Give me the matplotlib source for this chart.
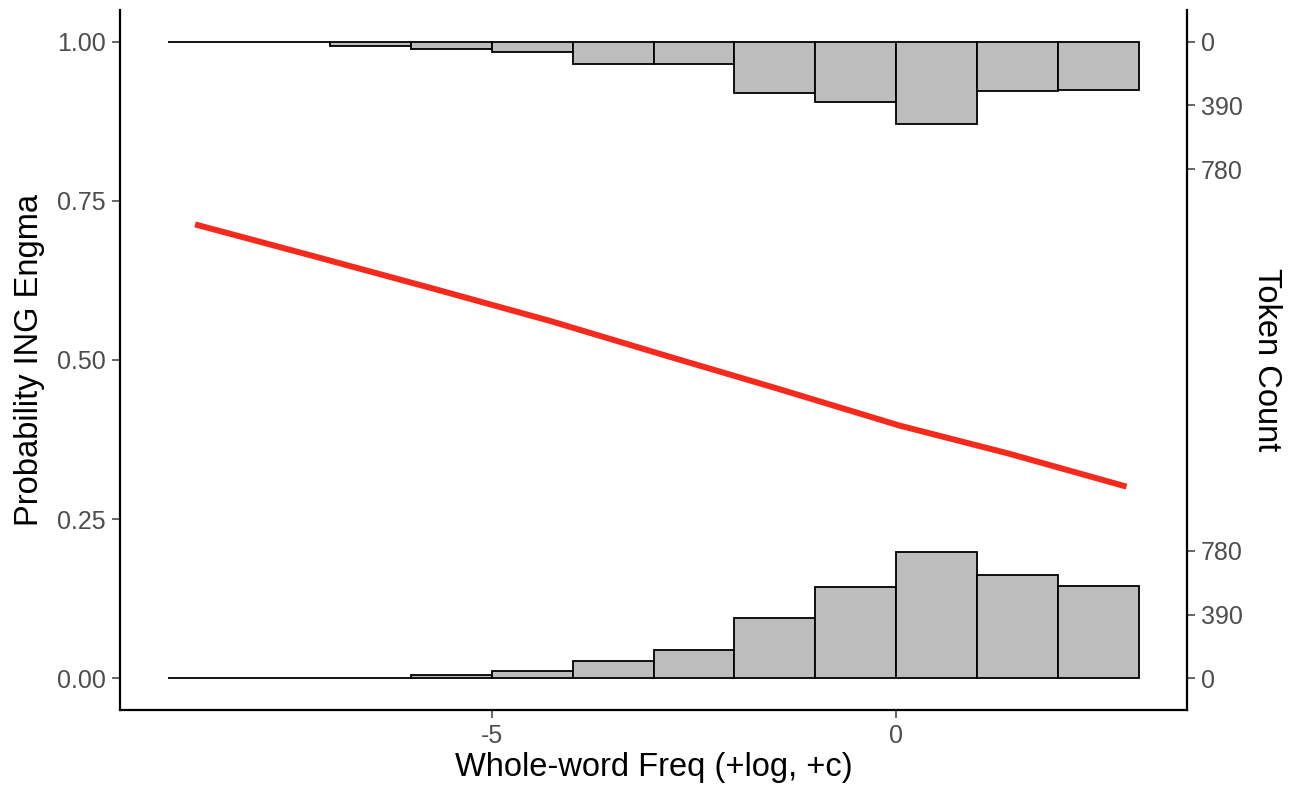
#!/usr/bin/env python3
"""Whole-word frequency vs probability of ING engma, with marginal token histograms"""

import numpy as np
import matplotlib
matplotlib.use("Agg")
import matplotlib.pyplot as plt

plt.rcParams['font.family'] = ['Liberation Sans', 'DejaVu Sans']
plt.rcParams['axes.unicode_minus'] = False

# histogram bins (width 1) over whole-word frequency
bin_left = [-9, -8, -7, -6, -5, -4, -3, -2, -1, 0, 1, 2]
# token counts hanging from the top (engma = 1) and rising from the bottom (engma = 0)
count_top = [4, 1, 25, 45, 66, 135, 135, 316, 372, 503, 302, 294]
count_bottom = [2, 1, 4, 22, 44, 108, 170, 369, 558, 776, 630, 562]

# fitted probability curve
line_x = [-8.67, -7.23, -5.75, -4.27, -2.80, -1.44, 0.04, 1.39, 2.85]
line_y = [0.713, 0.664, 0.613, 0.561, 0.505, 0.454, 0.397, 0.353, 0.301]

count_ticks = [0, 390, 780]
count_scale = 0.1 / 390  # probability units per token

fig = plt.figure(figsize=(12.89, 7.92), dpi=100)
ax = fig.add_axes([0.093, 0.1035, 0.828, 0.884])

fill = '#BDBDBD'
ax.bar(bin_left, [-c * count_scale for c in count_top], width=1, bottom=1,
       align='edge', color=fill, edgecolor='black', linewidth=1.3, zorder=2)
ax.bar(bin_left, [c * count_scale for c in count_bottom], width=1, bottom=0,
       align='edge', color=fill, edgecolor='black', linewidth=1.3, zorder=2)

ax.plot(line_x, line_y, color='#F52A1C', linewidth=4.3, solid_capstyle='butt',
        solid_joinstyle='round', zorder=3)

ax.set_xlim(-9.6, 3.6)
ax.set_ylim(-0.05, 1.05)
ax.set_xticks([-5, 0])
ax.set_yticks([0, 0.25, 0.5, 0.75, 1.0])
ax.set_yticklabels(['0.00', '0.25', '0.50', '0.75', '1.00'])

ax.set_xlabel('Whole-word Freq (+log, +c)', fontsize=23.5, labelpad=3)
ax.set_ylabel('Probability ING Engma', fontsize=23.5, labelpad=9)

# right axis: token counts for both histograms
ax2 = ax.twinx()
ax2.set_ylim(ax.get_ylim())
pos = [1 - c * count_scale for c in count_ticks] + [c * count_scale for c in count_ticks]
ax2.set_yticks(pos)
ax2.set_yticklabels([str(c) for c in count_ticks] * 2)
ax2.set_ylabel('Token Count', fontsize=23.5, rotation=-90, labelpad=28)

for a in (ax, ax2):
    a.spines['top'].set_visible(False)
    for s in a.spines.values():
        s.set_linewidth(1.6)
    a.tick_params(axis='both', length=6, width=1.2, colors='#4D4D4D',
                  labelsize=18, labelcolor='#4D4D4D', pad=4)
ax.spines['right'].set_visible(False)
ax2.spines['left'].set_visible(False)
ax2.spines['bottom'].set_visible(False)

fig.savefig('out.png', dpi=100)
